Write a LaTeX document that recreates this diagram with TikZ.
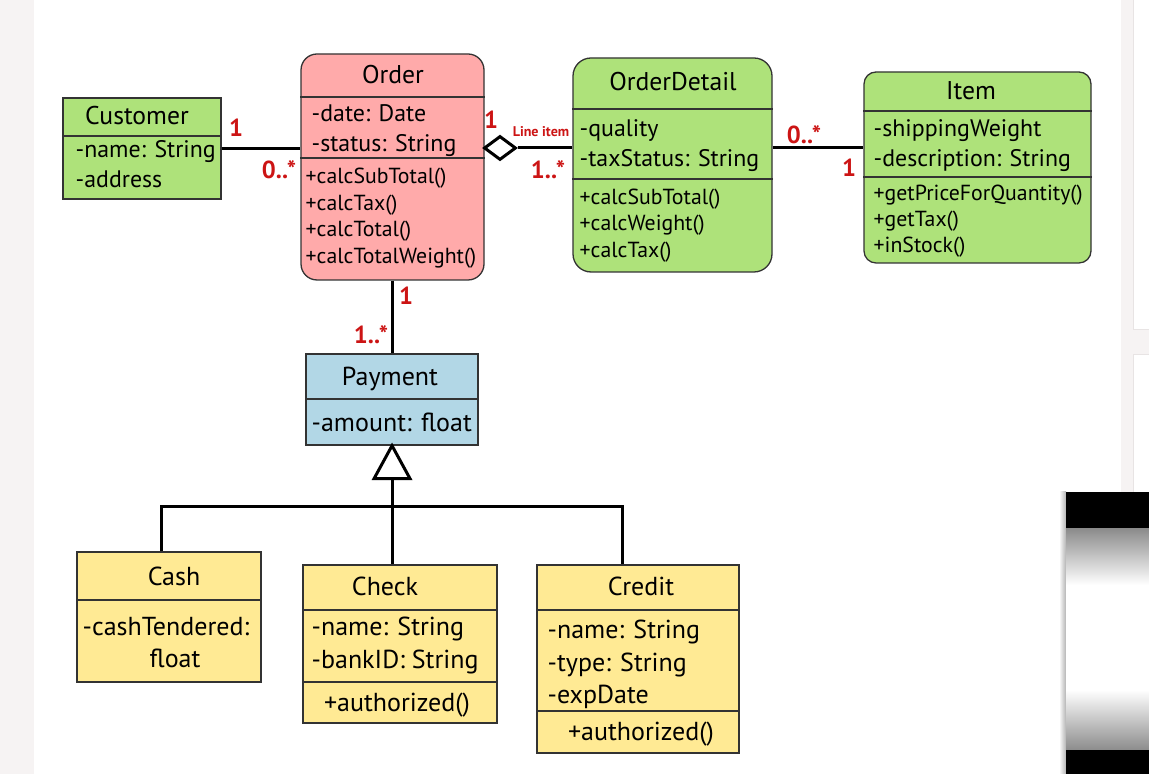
\documentclass[tikz,border=0pt]{standalone}
\usepackage{fontspec}
\setmainfont{PT Sans}
\usetikzlibrary{shapes.geometric}
\definecolor{clsgreen}{RGB}{174,226,122}
\definecolor{clspink}{RGB}{255,170,170}
\definecolor{clsblue}{RGB}{178,215,230}
\definecolor{clsyellow}{RGB}{255,234,148}
\definecolor{clsline}{RGB}{51,51,51}
\definecolor{multred}{RGB}{204,20,20}
\definecolor{pagegray}{RGB}{246,243,243}
\definecolor{panelline}{RGB}{232,228,228}
\begin{document}
\begin{tikzpicture}[scale=0.1]
\tikzstyle{every node}+=[inner sep=0pt]
\tikzstyle{cls}=[draw=clsline, line width=0.13mm, rectangle]
\tikzstyle{sep}=[draw=clsline, line width=0.13mm]
\tikzstyle{assoc}=[draw=black, line width=0.3mm]
\tikzstyle{aggr}=[diamond, draw=black, line width=0.3mm, fill=white, minimum width=3.2mm, minimum height=2.4mm]
\tikzstyle{title}=[text height=1.7mm, text depth=0pt, font=\fontsize{7.3}{8}\selectfont]
\tikzstyle{attr}=[anchor=west, text height=1.6mm, text depth=0pt, font=\fontsize{6.8}{8}\selectfont]
\tikzstyle{meth}=[anchor=west, text height=1.45mm, text depth=0pt, font=\fontsize{6.2}{7}\selectfont]
\tikzstyle{big}=[text height=1.7mm, text depth=0pt, font=\fontsize{7.4}{8}\selectfont]
\tikzstyle{mult}=[text=multred, text height=1.75mm, text depth=0pt, font=\bfseries\fontsize{7}{8}\selectfont]
\useasboundingbox (0,0) rectangle (114.9,-77.4);
\fill [white] (0,0) rectangle (114.9,-77.4);
\fill [pagegray] (0,0) rectangle (3.4,-77.4);
\fill [pagegray] (112.1,0) rectangle (114.9,-77.4);
\filldraw [fill=white, draw=panelline, line width=0.1mm] (113.3,0.1) rectangle (115,-33.0);
\filldraw [fill=white, draw=panelline, line width=0.1mm] (113.3,-35.5) rectangle (115,-77.5);
\shade [left color=white, right color=black!30] (105.9,-49.2) rectangle (106.6,-77.4);
\fill [black] (106.6,-49.2) rectangle (114.9,-52.9);
\shade [top color=black!45, bottom color=white] (106.6,-52.9) rectangle (114.9,-58.5);
\fill [white] (106.6,-58.5) rectangle (114.9,-69.0);
\shade [top color=white, bottom color=black!45] (106.6,-69.0) rectangle (114.9,-75.0);
\fill [black] (106.6,-75.0) rectangle (114.9,-77.4);
\node [cls, fill=clsgreen, minimum width=15.8mm, minimum height=10.1mm] (customer) at (14.2,-14.85) {};
\node [cls, fill=clspink, rounded corners=1.6mm, minimum width=18.3mm, minimum height=22.6mm] (order) at (39.25,-16.7) {};
\node [cls, fill=clsgreen, rounded corners=1.8mm, minimum width=19.9mm, minimum height=21.4mm] (orderdetail) at (67.25,-16.5) {};
\node [cls, fill=clsgreen, rounded corners=1.2mm, minimum width=22.7mm, minimum height=19.1mm] (item) at (97.75,-16.75) {};
\node [cls, fill=clsblue, minimum width=17.2mm, minimum height=9.1mm] (payment) at (39.2,-39.95) {};
\node [cls, fill=clsyellow, minimum width=18.4mm, minimum height=13mm] (cash) at (16.9,-61.7) {};
\node [cls, fill=clsyellow, minimum width=19.4mm, minimum height=15.8mm] (check) at (40,-64.4) {};
\node [cls, fill=clsyellow, minimum width=20.2mm, minimum height=18.8mm] (credit) at (63.8,-65.9) {};
\draw [sep] (customer.west |- 0,-13.6) -- (customer.east |- 0,-13.6);
\draw [sep] (order.west |- 0,-9.7) -- (order.east |- 0,-9.7);
\draw [sep] (order.west |- 0,-15.8) -- (order.east |- 0,-15.8);
\draw [sep] (orderdetail.west |- 0,-10.9) -- (orderdetail.east |- 0,-10.9);
\draw [sep] (orderdetail.west |- 0,-17.9) -- (orderdetail.east |- 0,-17.9);
\draw [sep] (item.west |- 0,-11.1) -- (item.east |- 0,-11.1);
\draw [sep] (item.west |- 0,-17.7) -- (item.east |- 0,-17.7);
\draw [sep] (payment.west |- 0,-39.9) -- (payment.east |- 0,-39.9);
\draw [sep] (cash.west |- 0,-60.0) -- (cash.east |- 0,-60.0);
\draw [sep] (check.west |- 0,-61.0) -- (check.east |- 0,-61.0);
\draw [sep] (check.west |- 0,-68.2) -- (check.east |- 0,-68.2);
\draw [sep] (credit.west |- 0,-61.0) -- (credit.east |- 0,-61.0);
\draw [sep] (credit.west |- 0,-71.1) -- (credit.east |- 0,-71.1);
\node [title] (custT) at (13.7,-11.6) {Customer};
\node [attr] (custA1) at (7.5,-15.0) {-name: String};
\node [attr] (custA2) at (7.5,-18.0) {-address};
\node [title] (ordT) at (39.3,-7.5) {Order};
\node [attr] (ordA1) at (31.1,-11.4) {-date: Date};
\node [attr] (ordA2) at (31.1,-14.4) {-status: String};
\node [meth] (ordM1) at (30.5,-17.6) {+calcSubTotal()};
\node [meth] (ordM2) at (30.5,-20.3) {+calcTax()};
\node [meth] (ordM3) at (30.5,-22.9) {+calcTotal()};
\node [meth] (ordM4) at (30.5,-25.6) {+calcTotalWeight()};
\node [title] (odT) at (67.3,-8.2) {OrderDetail};
\node [attr] (odA1) at (57.9,-12.9) {-quality};
\node [attr] (odA2) at (57.9,-15.9) {-taxStatus: String};
\node [meth] (odM1) at (57.9,-19.7) {+calcSubTotal()};
\node [meth] (odM2) at (57.9,-22.3) {+calcWeight()};
\node [meth] (odM3) at (57.9,-25.0) {+calcTax()};
\node [title] (itemT) at (97.1,-9.1) {Item};
\node [attr] (itemA1) at (87.3,-12.9) {-shippingWeight};
\node [attr] (itemA2) at (87.3,-15.9) {-description: String};
\node [meth] (itemM1) at (87.3,-19.3) {+getPriceForQuantity()};
\node [meth] (itemM2) at (87.3,-21.9) {+getTax()};
\node [meth] (itemM3) at (87.3,-24.5) {+inStock()};
\node [big] (payT) at (39.0,-37.7) {Payment};
\node [big, anchor=west] (payA1) at (31.1,-42.3) {-amount: float};
\node [big] (cashT) at (17.4,-57.7) {Cash};
\node [big, anchor=west] (cashA1) at (8.2,-62.7) {-cashTendered:};
\node [big] (cashA2) at (17.5,-65.9) {float};
\node [big] (checkT) at (38.5,-58.7) {Check};
\node [big, anchor=west] (checkA1) at (31.1,-62.7) {-name: String};
\node [big, anchor=west] (checkA2) at (31.1,-66.0) {-bankID: String};
\node [big] (checkM1) at (39.7,-70.3) {+authorized()};
\node [big] (credT) at (64.1,-58.7) {Credit};
\node [big, anchor=west] (credA1) at (54.7,-63.0) {-name: String};
\node [big, anchor=west] (credA2) at (54.7,-66.3) {-type: String};
\node [big, anchor=west] (credA3) at (54.7,-69.5) {-expDate};
\node [big] (credM1) at (64.1,-73.2) {+authorized()};
\node [aggr] (agg) at (50.0,-14.8) {};
\coordinate (tri) at ([yshift=-3.3mm]payment.south);
\coordinate (branch) at (tri |- 0,-50.6);
\draw [assoc] (customer.east) -- (customer.east -| order.west);
\draw [assoc] (agg.east) -- (agg.east -| orderdetail.west);
\draw [assoc] (orderdetail.east |- agg) -- (item.west |- agg);
\draw [assoc] (order.south) -- (payment.north -| order.south);
\draw [assoc] (tri) -- (check.north -| tri);
\draw [assoc] (cash.north -| 16.1,0) |- (branch) -| (credit.north -| 62.2,0);
\draw [assoc, fill=white] (payment.south) -- ++(-1.8,-3.3) -- ++(3.6,0) -- cycle;
\node [mult] (m1) at (23.6,-12.8) {1};
\node [mult] (m2) at (27.9,-17.0) {0..*};
\node [mult] (m3) at (49.1,-12.0) {1};
\node [mult, font=\bfseries\fontsize{4}{5}\selectfont, text height=1mm] (lineitem) at (54.1,-13.2) {Line item};
\node [mult] (m4) at (54.8,-17.0) {1..*};
\node [mult] (m5) at (80.4,-13.5) {0..*};
\node [mult] (m6) at (84.9,-16.8) {1};
\node [mult] (m7) at (40.6,-29.6) {1};
\node [mult] (m8) at (37.1,-33.5) {1..*};
\end{tikzpicture}
\end{document}
